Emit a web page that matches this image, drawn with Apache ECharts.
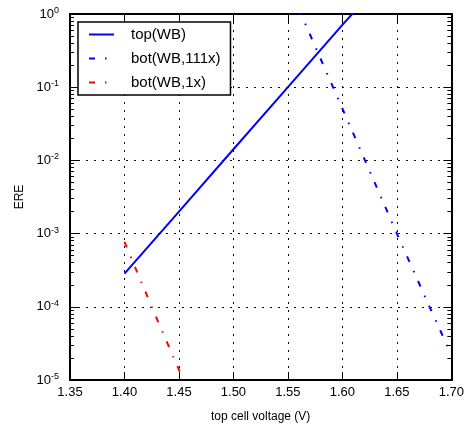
<!DOCTYPE html>
<html>
<head>
<meta charset="utf-8">
<script src="https://cdn.jsdelivr.net/npm/echarts@6/dist/echarts.min.js"></script>
<style>
  html, body { margin: 0; padding: 0; background: #fff; }
  #chart { width: 467px; height: 428px; }
</style>
</head>
<body>
<div id="chart"></div>
<script>
// values (x = top cell voltage in V, y = ERE)
var topX = [1.40, 1.45, 1.50, 1.55, 1.60, 1.61];
var topY = [2.84e-4, 2.0e-3, 1.42e-2, 1.0e-1, 0.71, 1.04];
var bot111X = [1.56, 1.60, 1.65, 1.68, 1.70];
var bot111Y = [1.17, 5.1e-2, 1.0e-3, 1.0e-4, 2.2e-5];
var bot1X = [1.40, 1.425, 1.454, 1.46];
var bot1Y = [7.7e-4, 1.0e-4, 1.0e-5, 6.2e-6];

var yMajor = [1e-5, 1e-4, 1e-3, 1e-2, 1e-1, 1];
var yMinor = [];
for (var e = -5; e < 0; e++) {
  for (var m = 2; m <= 9; m++) yMinor.push(m * Math.pow(10, e));
}

function pairs(xs, ys) {
  return xs.map(function (x, i) { return [x, ys[i]]; });
}

var FONT = 'Liberation Sans';
var frame = { show: true, lineStyle: { color: '#000', width: 1.8 } };
var dotted = { color: '#000', width: 1, type: [2, 6] };
var dashDot = [6, 10, 1.5, 9.5];

// matplotlib-like box: ticks on every side, minor log ticks on separate axes
function yAxisDef(pos, major) {
  return {
    type: 'log',
    logBase: 10,
    min: 1e-5,
    max: 1,
    position: pos,
    axisLine: frame,
    axisTick: {
      show: true, inside: true, length: major ? 8 : 4,
      customValues: major ? yMajor : yMinor,
      lineStyle: { color: '#000', width: 1 }
    },
    axisLabel: {
      show: major && pos === 'left',
      customValues: yMajor,
      margin: 11,
      fontFamily: FONT, fontSize: 13, color: '#000',
      formatter: function (v) {
        return '10{sup|' + Math.round(Math.log10(v)) + '}';
      },
      rich: {
        sup: { fontFamily: FONT, fontSize: 9, color: '#000', padding: [0, 0, 7, 0] }
      }
    },
    splitLine: { show: major && pos === 'left', lineStyle: dotted },
    name: major && pos === 'left' ? 'ERE' : '',
    nameLocation: 'middle',
    nameGap: 44,
    nameTextStyle: { fontFamily: FONT, fontSize: 12, color: '#000' }
  };
}

var chart = echarts.init(document.getElementById('chart'));
var option = {
  animation: false,
  backgroundColor: '#fff',
  grid: { left: 70, top: 14, right: 13, bottom: 46, containLabel: false },
  legend: {
    left: 78, top: 22,
    orient: 'vertical',
    backgroundColor: '#fff',
    borderColor: '#000', borderWidth: 1.5, borderRadius: 0,
    padding: [5, 10, 5, 10],
    itemWidth: 25, itemHeight: 14, itemGap: 9,
    itemStyle: { opacity: 0 },
    textStyle: { fontFamily: FONT, fontSize: 15, color: '#000', padding: [0, 0, 0, 12] },
    data: ['top(WB)', 'bot(WB,111x)', 'bot(WB,1x)']
  },
  xAxis: [
    {
      type: 'value', position: 'bottom',
      min: 1.35, max: 1.70, interval: 0.05,
      axisLine: frame,
      axisTick: { show: true, inside: true, length: 8, lineStyle: { color: '#000' } },
      axisLabel: {
        margin: 6, fontFamily: FONT, fontSize: 13, color: '#000',
        formatter: function (v) { return v.toFixed(2); }
      },
      splitLine: { show: true, lineStyle: dotted },
      name: 'top cell voltage (V)', nameLocation: 'middle', nameGap: 31,
      nameTextStyle: { fontFamily: FONT, fontSize: 12, color: '#000' }
    },
    {
      type: 'value', position: 'top',
      min: 1.35, max: 1.70, interval: 0.05,
      axisLine: frame,
      axisTick: { show: true, inside: true, length: 8, lineStyle: { color: '#000' } },
      axisLabel: { show: false },
      splitLine: { show: false }
    }
  ],
  yAxis: [
    yAxisDef('left', true),
    yAxisDef('left', false),
    yAxisDef('right', true),
    yAxisDef('right', false)
  ],
  series: [
    {
      name: 'top(WB)', type: 'line', showSymbol: false, symbol: 'none', clip: true,
      data: pairs(topX, topY),
      lineStyle: { color: '#0000ff', width: 2, type: 'solid' },
      itemStyle: { color: '#0000ff' }
    },
    {
      name: 'bot(WB,111x)', type: 'line', showSymbol: false, symbol: 'none', clip: true,
      data: pairs(bot111X, bot111Y),
      lineStyle: { color: '#0000ff', width: 2, type: dashDot },
      itemStyle: { color: '#0000ff' }
    },
    {
      name: 'bot(WB,1x)', type: 'line', showSymbol: false, symbol: 'none', clip: true,
      data: pairs(bot1X, bot1Y),
      lineStyle: { color: '#ff0000', width: 2, type: dashDot },
      itemStyle: { color: '#ff0000' }
    }
  ]
};
chart.setOption(option);
</script>
</body>
</html>
